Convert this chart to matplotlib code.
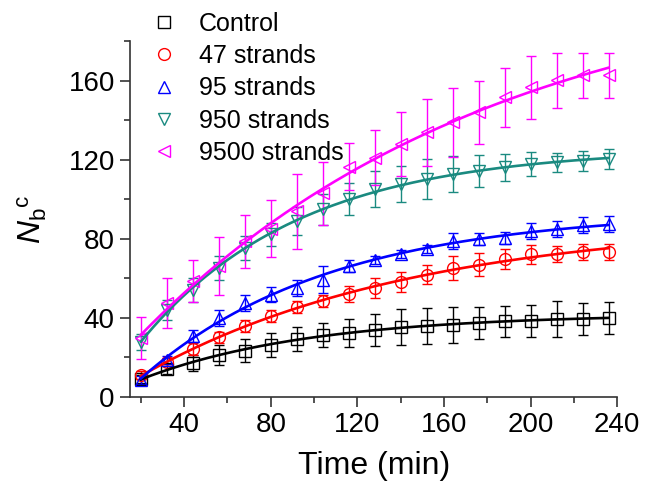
import matplotlib
matplotlib.use("Agg")
import numpy as np
import matplotlib.pyplot as plt
from matplotlib.lines import Line2D
from matplotlib.ticker import MultipleLocator

plt.rcParams['font.family'] = ['Liberation Sans', 'DejaVu Sans']
plt.rcParams['mathtext.fontset'] = 'custom'
plt.rcParams['mathtext.rm'] = 'Liberation Sans'
plt.rcParams['mathtext.it'] = 'Liberation Sans:italic'

# Time points (min)
time_min = [20, 32, 44, 56, 68, 80, 92, 104, 116, 128, 140, 152, 164, 176, 188, 200, 212, 224, 236]

labels = ["Control", "47 strands", "95 strands", "950 strands", "9500 strands"]

control = [9.1, 14.0, 17.1, 21.3, 23.5, 26.4, 29.3, 31.5, 32.5, 34.0, 35.4, 36.0, 36.5, 37.4, 38.2, 38.6, 39.4, 39.6, 40.0]
control_err = [2, 2.5, 4, 5, 6, 6, 6, 6, 7, 8, 9, 9, 9, 8, 8, 8, 9, 8, 8]

s47 = [11.2, 17.5, 24.2, 30.1, 35.7, 40.8, 45.5, 48.4, 52.2, 55.3, 58.2, 61.9, 65.3, 67.0, 69.9, 72.1, 72.4, 73.3, 73.5]
s47_err = [2, 2, 3, 3, 3, 3, 3, 3, 4, 5, 5, 5, 6, 6, 5, 5, 4, 4, 4]

s95 = [8.6, 18.8, 31.0, 40.0, 47.5, 51.8, 55.2, 59.4, 66.4, 69.1, 72.1, 75.0, 78.8, 79.7, 80.5, 83.9, 84.8, 87.0, 87.3]
s95_err = [2, 2, 3, 4, 4, 4, 4, 7, 3, 2, 2, 2, 4, 3, 3, 4, 4, 4, 4]

s950 = [28.0, 44.2, 54.3, 65.3, 75.5, 82.2, 89.0, 94.9, 100.0, 105.1, 107.6, 110.2, 112.7, 114.4, 116.1, 117.8, 118.6, 119.4, 120.3]
s950_err = [4, 5, 6, 6, 6, 6, 7, 8, 8, 9, 9, 10, 9, 8, 7, 6, 5, 5, 5]

s9500 = [29.8, 47.6, 58.5, 66.1, 78.8, 85.2, 94.0, 103.0, 116.5, 121.0, 127.9, 133.9, 138.9, 144.0, 151.6, 156.6, 160.1, 162.6, 162.6]
s9500_err = [10.6, 12.5, 10.7, 14.6, 13.4, 14.4, 19, 16, 12, 14, 16, 17, 17.5, 16, 15, 16, 14, 11.6, 11.6]

series = [control, s47, s95, s950, s9500]
errors = [control_err, s47_err, s95_err, s950_err, s9500_err]
colors = ["#000000", "#FF0000", "#0000FF", "#1A8A80", "#FF00FF"]
markers = ["s", "o", "^", "v", "<"]


def saturation_fit(t, y):
    """Least-squares fit of y = a - b*exp(-t/tau); returns a callable."""
    t = np.asarray(t, float)
    y = np.asarray(y, float)
    best = None
    for tau in np.linspace(10, 1000, 2000):
        A = np.column_stack([np.ones_like(t), -np.exp(-t / tau)])
        coef, *_ = np.linalg.lstsq(A, y, rcond=None)
        res = np.sum((A @ coef - y) ** 2)
        if best is None or res < best[0]:
            best = (res, tau, coef)
    _, tau, (a, b) = best
    return lambda tt: a - b * np.exp(-np.asarray(tt) / tau)


fig = plt.figure(figsize=(6.47, 4.83), dpi=100)
ax = fig.add_axes([0.201, 0.178, 0.753, 0.737])

t_fine = np.linspace(time_min[0], time_min[-1], 300)
for y, e, c, m in zip(series, errors, colors, markers):
    ax.errorbar(time_min, y, yerr=e, fmt='none', ecolor=c, elinewidth=1.0,
                capsize=3.5, capthick=1.0, zorder=2)
    ax.plot(time_min, y, linestyle='none', marker=m, markersize=8.5,
            markerfacecolor='none', markeredgecolor=c, markeredgewidth=1.0, zorder=3)
    fit = saturation_fit(time_min, y)
    ax.plot(t_fine, fit(t_fine), color=c, lw=1.9, zorder=4)

ax.set_xlim(15, 240)
ax.set_ylim(0, 180)
ax.xaxis.set_minor_locator(MultipleLocator(20))
ax.yaxis.set_minor_locator(MultipleLocator(20))
ax.set_xticks([40, 80, 120, 160, 200, 240])
ax.set_yticks([0, 40, 80, 120, 160])

for side in ("top", "right"):
    ax.spines[side].set_visible(False)
for side in ("left", "bottom"):
    ax.spines[side].set_linewidth(1.2)
    ax.spines[side].set_color("#333333")

ax.tick_params(which='major', direction='out', length=7, width=1.2, labelsize=20,
               color="#333333", pad=4)
ax.tick_params(which='minor', direction='out', length=4, width=1.2, color="#333333")

ax.set_xlabel("Time (min)", fontsize=23, labelpad=9)
ax.set_ylabel(r"$N_{\mathrm{b}}{}^{\mathrm{c}}$", fontsize=23, labelpad=14)

handles = [Line2D([], [], linestyle='none', marker=m, markersize=8.5,
                  markerfacecolor='none', markeredgecolor=c, markeredgewidth=1.0)
           for c, m in zip(colors, markers)]
fig.legend(handles, labels, loc='upper left', bbox_to_anchor=(0.218, 0.996),
           frameon=False, fontsize=18, handlelength=1.0, handletextpad=0.9,
           labelspacing=0.33, borderaxespad=0)

fig.savefig("out.png", dpi=100)
